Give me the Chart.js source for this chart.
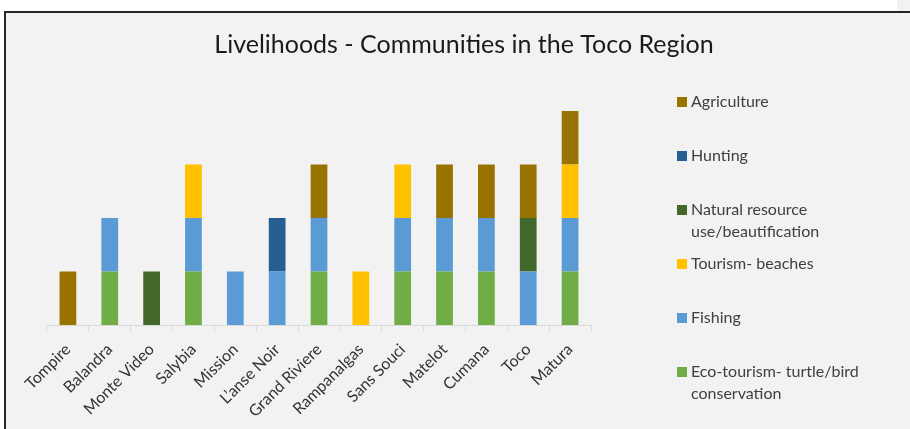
<!DOCTYPE html>
<html>
<head>
<meta charset="utf-8">
<script src="https://cdn.jsdelivr.net/npm/chart.js@4.4.1/dist/chart.umd.min.js"></script>
<style>
  html, body { margin: 0; padding: 0; }
  body { width: 910px; height: 429px; background: #f2f2f2; position: relative; overflow: hidden; }
  #whiteTop { position: absolute; left: 0; top: 0; width: 897px; height: 11px; background: #fff; }
  #whiteLeft { position: absolute; left: 0; top: 0; width: 4px; height: 429px; background: #fff; }
  #frame { position: absolute; left: 4px; top: 11px; width: 906px; height: 418px;
           border-top: 2px solid #262626; border-left: 2px solid #262626; box-sizing: border-box; }
  #wrap { position: absolute; left: 0; top: 0; width: 910px; height: 429px; }
</style>
</head>
<body>
<div id="whiteTop"></div>
<div id="whiteLeft"></div>
<div id="frame"></div>
<div id="wrap"><canvas id="grafica"></canvas></div>
<script>
const titulo = 'Livelihoods - Communities in the Toco Region';

const comunidades = ['Tompire', 'Balandra', 'Monte Video', 'Salybia', 'Mission', 'L\u2019anse Noir',
  'Grand Riviere', 'Rampanalgas', 'Sans Souci', 'Matelot', 'Cumana', 'Toco', 'Matura'];

const ecoturismo = [0, 1, 0, 1, 0, 0, 1, 0, 1, 1, 1, 0, 1];
const pesca      = [0, 1, 0, 1, 1, 1, 1, 0, 1, 1, 1, 1, 1];
const turismo    = [0, 0, 0, 1, 0, 0, 0, 1, 1, 0, 0, 0, 1];
const recursos   = [0, 0, 1, 0, 0, 0, 0, 0, 0, 0, 0, 1, 0];
const caza       = [0, 0, 0, 0, 0, 1, 0, 0, 0, 0, 0, 0, 0];
const agricultura= [1, 0, 0, 0, 0, 0, 1, 0, 0, 1, 1, 1, 1];

const series = [
  { label: ['Eco-tourism- turtle/bird', 'conservation'], data: ecoturismo, color: '#70ad47' },
  { label: ['Fishing'], data: pesca, color: '#5b9bd5' },
  { label: ['Tourism- beaches'], data: turismo, color: '#ffc000' },
  { label: ['Natural resource', 'use/beautification'], data: recursos, color: '#43682b' },
  { label: ['Hunting'], data: caza, color: '#255e91' },
  { label: ['Agriculture'], data: agricultura, color: '#997300' },
];

// titulo centrado en todo el recuadro + leyenda a la derecha (orden inverso como en Excel)
const extras = {
  id: 'extras',
  afterDraw(chart) {
    const ctx = chart.ctx;
    ctx.save();
    ctx.textBaseline = 'middle';
    ctx.textAlign = 'center';
    ctx.font = '25px Lato';
    ctx.fillStyle = '#1a1a1a';
    ctx.fillText(titulo, 464, 45);

    ctx.textAlign = 'left';
    ctx.font = '16px Lato';
    const items = chart.data.datasets.slice().reverse();
    items.forEach((ds, i) => {
      const y = 102 + i * 54;
      ctx.fillStyle = ds.backgroundColor;
      ctx.fillRect(677, y - 5, 10, 10);
      ctx.fillStyle = '#404040';
      ds.label.forEach((linea, j) => ctx.fillText(linea, 691, y + j * 22));
    });
    ctx.restore();
  }
};

const ctx = document.getElementById('grafica').getContext('2d');

new Chart(ctx, {
  type: 'bar',
  data: {
    labels: comunidades,
    datasets: series.map(s => ({
      label: s.label,
      data: s.data,
      backgroundColor: s.color,
      borderWidth: 0,
      barPercentage: 0.4,
      categoryPercentage: 1,
    }))
  },
  options: {
    responsive: true,
    maintainAspectRatio: false,
    animation: false,
    layout: { padding: { left: 47, right: 319, top: 57.5, bottom: 0 } },
    plugins: {
      legend: { display: false },
      tooltip: { enabled: false },
      title: { display: false },
    },
    scales: {
      x: {
        stacked: true,
        afterFit: (s) => { s.height = 104; },
        grid: { offset: true, drawOnChartArea: false, tickLength: 6, color: '#d9d9d9' },
        border: { color: '#d9d9d9' },
        ticks: {
          maxRotation: 45, minRotation: 45,
          padding: 9,
          color: '#333333',
          font: { family: 'Lato', size: 16 }
        }
      },
      y: {
        stacked: true,
        display: false,
        min: 0,
        max: 5
      }
    }
  },
  plugins: [extras]
});
</script>
</body>
</html>
